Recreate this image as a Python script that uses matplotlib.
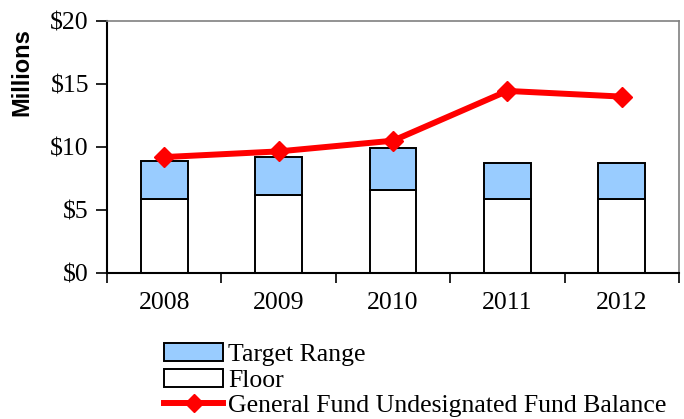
import matplotlib
matplotlib.use("Agg")
import matplotlib.pyplot as plt
from matplotlib.patches import Patch
from matplotlib.lines import Line2D
from matplotlib.ticker import FuncFormatter

# data (millions of dollars)
years = ["2008", "2009", "2010", "2011", "2012"]
floor = [5.9, 6.2, 6.6, 5.85, 5.85]
target_top = [8.9, 9.2, 9.95, 8.75, 8.75]
fund_balance = [9.2, 9.65, 10.5, 14.45, 14.0]

target_range = [t - f for t, f in zip(target_top, floor)]

plt.rcParams["font.family"] = ["Liberation Serif", "DejaVu Serif"]
FS = 18.5

fig = plt.figure(figsize=(6.84, 4.19), dpi=100)
ax = fig.add_axes([107 / 684, 1 - 273 / 419, (679 - 107) / 684, (273 - 21) / 419])

x = list(range(len(years)))
ax.bar(x, floor, width=0.41, color="white", edgecolor="black", linewidth=1.4, zorder=2)
ax.bar(x, target_range, bottom=floor, width=0.41, color="#99CCFF",
       edgecolor="black", linewidth=1.4, zorder=2)
ax.plot(x, fund_balance, color="#FF0000", linewidth=4.3, marker="D",
        markersize=10, zorder=3)

ax.set_xlim(-0.5, len(years) - 0.5)
ax.set_ylim(0, 20)
ax.set_yticks([0, 5, 10, 15, 20])
ax.yaxis.set_major_formatter(FuncFormatter(lambda v, p: f"${v:.0f}"))
ax.tick_params(axis="y", direction="out", length=8, width=1.2, labelsize=FS, pad=5)

# category boundaries get the tick marks, labels sit in between
ax.set_xticks([i - 0.5 for i in range(len(years) + 1)])
ax.set_xticklabels([])
ax.set_xticks(x, minor=True)
ax.set_xticklabels(years, minor=True)
ax.tick_params(axis="x", which="major", direction="out", length=7, width=1.2)
ax.tick_params(axis="x", which="minor", length=0, labelsize=FS, pad=14)

for side in ["left", "bottom"]:
    ax.spines[side].set_linewidth(1.5)
    ax.spines[side].set_color("black")
for side in ["top", "right"]:
    ax.spines[side].set_linewidth(1.2)
    ax.spines[side].set_color("#808080")

fig.text(22 / 684, 1 - 72 / 419, "Millions", rotation=90, ha="center", va="center",
         fontsize=17, fontweight="bold", family=["Liberation Sans", "DejaVu Sans"])

handles = [
    Patch(facecolor="#99CCFF", edgecolor="black", linewidth=1.4),
    Patch(facecolor="white", edgecolor="black", linewidth=1.4),
    Line2D([0], [0], color="#FF0000", linewidth=4.3, marker="D", markersize=9),
]
labels = ["Target Range", "Floor", "General Fund Undesignated Fund Balance"]
fig.legend(handles, labels, loc="upper left", bbox_to_anchor=(164 / 684, 1 - 343 / 419),
           frameon=False, fontsize=FS, handlelength=2.3, handleheight=0.7,
           handletextpad=0.2, labelspacing=0.1, borderpad=0, borderaxespad=0)

fig.savefig("out.png", dpi=100)
